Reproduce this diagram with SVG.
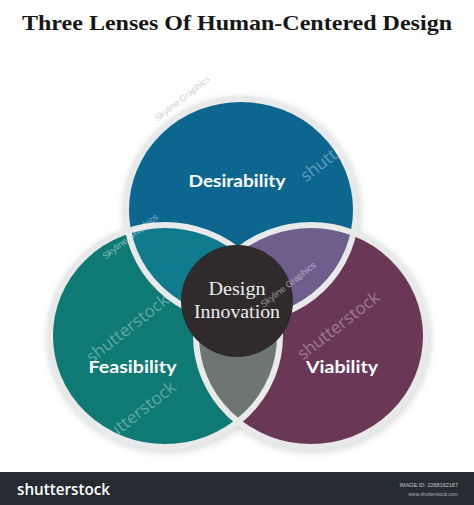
<svg xmlns="http://www.w3.org/2000/svg" width="474" height="505" viewBox="0 0 474 505">
  <style>
    .ring { fill: none; stroke: #e8eaea; stroke-width: 6; }
    .label { font-family: Lato, "Open Sans", "DejaVu Sans", sans-serif; font-weight: bold; font-size: 17px; fill: #ffffff; text-anchor: middle; }
    .center { font-family: "Liberation Serif", "Times New Roman", serif; font-size: 19px; fill: #ececec; text-anchor: middle; }
    .wm { font-family: "Open Sans", "Liberation Sans", sans-serif; font-size: 17px; fill: #ffffff; fill-opacity: 0.35; text-anchor: middle; }
    .wm2 { font-family: "Liberation Sans", sans-serif; font-size: 9px; fill: #ffffff; fill-opacity: 0.5; text-anchor: middle; }
  </style>
  <defs>
    <clipPath id="clipTop"><ellipse cx="241" cy="210" rx="115" ry="111"/></clipPath>
    <clipPath id="clipRight"><ellipse cx="311" cy="336" rx="115" ry="111"/></clipPath>
    <filter id="blur" x="-20%" y="-20%" width="140%" height="140%"><feGaussianBlur stdDeviation="3.5"/></filter>
  </defs>

  <rect x="0" y="0" width="474" height="505" fill="#ffffff"/>

  <g id="title">
    <text x="237" y="30" font-family="'Liberation Serif', 'Times New Roman', serif" font-weight="bold" font-size="22" fill="#161616" text-anchor="middle" textLength="430" lengthAdjust="spacingAndGlyphs">Three Lenses Of Human-Centered Design</text>
  </g>

  <g id="shadows" filter="url(#blur)" fill="#bcc0c1" fill-opacity="0.55">
    <ellipse cx="242" cy="212" rx="119" ry="115"/>
    <ellipse cx="166" cy="338" rx="119" ry="115"/>
    <ellipse cx="312" cy="338" rx="119" ry="115"/>
  </g>

  <g id="desirability">
    <ellipse cx="241" cy="210" rx="115" ry="111" fill="#0d6690"/>
  </g>
  <g id="feasibility">
    <ellipse cx="165" cy="336" rx="115" ry="111" fill="#0e7a73"/>
  </g>
  <g id="viability">
    <ellipse cx="311" cy="336" rx="115" ry="111" fill="#6a3757"/>
  </g>

  <g id="overlaps">
    <ellipse cx="165" cy="336" rx="115" ry="111" fill="#107b8e" clip-path="url(#clipTop)"/>
    <ellipse cx="311" cy="336" rx="115" ry="111" fill="#6e5e8d" clip-path="url(#clipTop)"/>
    <ellipse cx="165" cy="336" rx="115" ry="111" fill="#6d7672" clip-path="url(#clipRight)"/>
  </g>

  <g id="rings">
    <ellipse class="ring" cx="241" cy="210" rx="115" ry="111"/>
    <ellipse class="ring" cx="165" cy="336" rx="115" ry="111"/>
    <ellipse class="ring" cx="311" cy="336" rx="115" ry="111"/>
  </g>

  <g id="design-innovation">
    <circle cx="237" cy="301" r="56" fill="#2f2b2c"/>
    <text class="center" x="237" y="295" textLength="57" lengthAdjust="spacingAndGlyphs">Design</text>
    <text class="center" x="237" y="318" textLength="86" lengthAdjust="spacingAndGlyphs">Innovation</text>
  </g>

  <g id="labels">
    <text class="label" x="237" y="187" textLength="97" lengthAdjust="spacingAndGlyphs">Desirability</text>
    <text class="label" x="132.5" y="373" textLength="88" lengthAdjust="spacingAndGlyphs">Feasibility</text>
    <text class="label" x="342" y="373" textLength="72" lengthAdjust="spacingAndGlyphs">Viability</text>
  </g>

  <g id="connectors"></g>

  <g id="watermarks">
    <text class="wm" transform="translate(131,333) rotate(-38)">shutterstock</text>
    <text class="wm" transform="translate(138,420) rotate(-38)">shutterstock</text>
    <text class="wm" transform="translate(342,330) rotate(-38)">shutterstock</text>
    <text class="wm" transform="translate(345,152) rotate(-38)">shutterstock</text>
    <text class="wm2" transform="translate(290,287) rotate(-38)">Skyline Graphics</text>
    <text class="wm2" transform="translate(132,239) rotate(-38)">Skyline Graphics</text>
    <text class="wm2" style="fill:#9a9a9a" transform="translate(184,101) rotate(-38)">Skyline Graphics</text>
  </g>

  <g id="footer">
    <rect x="0" y="472" width="474" height="33" fill="#262a31"/>
    <text x="17" y="495" font-family="'Open Sans', 'Liberation Sans', sans-serif" font-weight="600" font-size="16" fill="#ffffff" textLength="93" lengthAdjust="spacingAndGlyphs">shutterstock</text>
    <text x="458" y="487" font-family="'Liberation Sans', sans-serif" font-size="5.5" fill="#c8c8c8" text-anchor="end">IMAGE ID: 2268162187</text>
    <text x="458" y="496" font-family="'Liberation Sans', sans-serif" font-size="5" fill="#b0b0b0" text-anchor="end">www.shutterstock.com</text>
  </g>
</svg>
